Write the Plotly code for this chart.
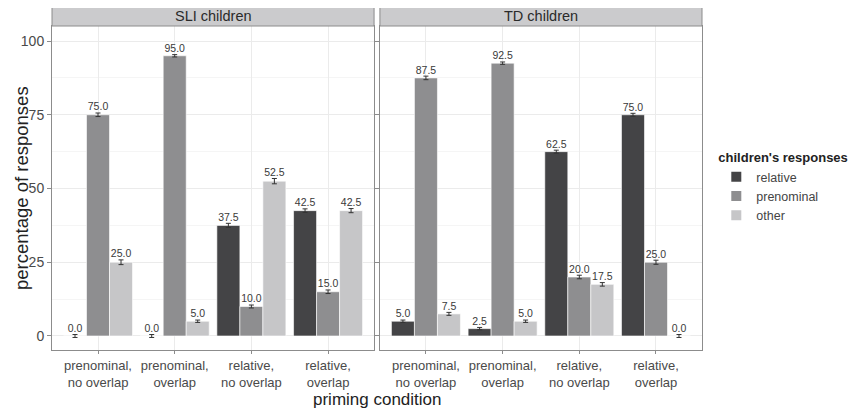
import plotly.graph_objects as go

conditions = ["prenominal,<br>no overlap", "prenominal,<br>overlap", "relative,<br>no overlap", "relative,<br>overlap"]
cond_pos = [1, 2, 3, 4]
panels = ["SLI children", "TD children"]
series = ["relative", "prenominal", "other"]
colors = ["#444446", "#8e8e90", "#c6c6c8"]

sli_values = {
    "relative": [0.0, 0.0, 37.5, 42.5],
    "prenominal": [75.0, 95.0, 10.0, 15.0],
    "other": [25.0, 5.0, 52.5, 42.5],
}
td_values = {
    "relative": [5.0, 2.5, 62.5, 75.0],
    "prenominal": [87.5, 92.5, 20.0, 25.0],
    "other": [7.5, 5.0, 17.5, 0.0],
}
sli_err = {
    "relative": [0.5, 0.5, 0.7, 0.6],
    "prenominal": [0.6, 0.4, 0.5, 0.6],
    "other": [0.8, 0.4, 0.9, 0.7],
}
td_err = {
    "relative": [0.4, 0.4, 0.5, 0.5],
    "prenominal": [0.6, 0.4, 0.6, 0.7],
    "other": [0.5, 0.4, 0.6, 0.5],
}

FONT = "Liberation Sans, Arial, sans-serif"
fig = go.Figure()

offsets = [-0.3, 0.0, 0.3]
for p, (vals, errs) in enumerate([(sli_values, sli_err), (td_values, td_err)]):
    xa = "x" if p == 0 else "x2"
    ya = "y" if p == 0 else "y2"
    for i, s in enumerate(series):
        fig.add_trace(go.Bar(
            x=cond_pos, y=vals[s], name=s, marker=dict(color=colors[i], line=dict(color="white", width=0.6)),
            error_y=dict(type="data", array=errs[s], color="#333333", thickness=1, width=2.5),
            xaxis=xa, yaxis=ya, legendgroup=s, showlegend=(p == 0), offsetgroup=str(i),
            hoverinfo="skip",
        ))
        fig.add_trace(go.Scatter(
            x=[c + offsets[i] for c in cond_pos],
            y=[v + e for v, e in zip(vals[s], errs[s])],
            text=[f"{v:.1f}" for v in vals[s]],
            mode="text", textposition="top center",
            textfont=dict(size=10.5, color="#3a3a3a", family=FONT),
            xaxis=xa, yaxis=ya, showlegend=False, hoverinfo="skip",
        ))

xcommon = dict(
    range=[0.4, 4.6], tickmode="array", tickvals=cond_pos, ticktext=conditions,
    showgrid=True, gridcolor="#ebebeb", gridwidth=1, zeroline=False,
    showline=True, mirror=True, linecolor="#8c8c8c", linewidth=1,
    ticks="outside", ticklen=3, tickcolor="#8c8c8c", automargin=False,
    tickfont=dict(size=13, color="#4a4a4a", family=FONT),
)
ycommon = dict(
    range=[-4.75, 105.1], tickmode="array", tickvals=[0, 25, 50, 75, 100],
    showgrid=True, gridcolor="#ebebeb", gridwidth=1, zeroline=False,
    minor=dict(showgrid=True, gridcolor="#f5f5f5", tickvals=[12.5, 37.5, 62.5, 87.5]),
    showline=True, mirror=True, linecolor="#8c8c8c", linewidth=1,
    ticks="outside", ticklen=4, tickcolor="#8c8c8c", automargin=False,
    tickfont=dict(size=14, color="#4a4a4a", family=FONT),
)

fig.update_layout(
    width=860, height=408,
    margin=dict(l=44, r=166, t=18, b=66, autoexpand=False),
    paper_bgcolor="white", plot_bgcolor="white",
    barmode="group", bargap=0.1, bargroupgap=0,
    font=dict(family=FONT, color="#333333"),
    xaxis=dict(domain=[0, 0.4955], anchor="y", **xcommon),
    xaxis2=dict(domain=[0.5045, 1], anchor="y2", **xcommon),
    yaxis=dict(domain=[0, 1], anchor="x", **ycommon),
    yaxis2=dict(domain=[0, 1], anchor="x2", showticklabels=False, **{k: v for k, v in ycommon.items() if k != "tickfont"}),
    legend=dict(
        x=1.022, y=0.632, xanchor="left", yanchor="top",
        title=dict(text="<b>children's responses</b>", font=dict(size=13, color="#222222", family=FONT)),
        font=dict(size=12.5, color="#444444", family=FONT),
        tracegroupgap=0, itemsizing="constant",
    ),
)

strip_top = 1 + 19 / 324
for xd, label in [("x", panels[0]), ("x2", panels[1])]:
    fig.add_shape(type="rect", xref=f"{xd} domain", yref="paper", x0=0, x1=1, y0=1, y1=strip_top,
                  fillcolor="#cbcbcd", line=dict(color="#8c8c8c", width=1), layer="above")
    fig.add_annotation(xref=f"{xd} domain", yref="paper", x=0.5, y=(1 + strip_top) / 2,
                       text=label, showarrow=False, font=dict(size=14.5, color="#2a2a2a", family=FONT),
                       xanchor="center", yanchor="middle")

fig.add_annotation(xref="paper", yref="paper", x=0.5, y=-60 / 324, text="priming condition",
                   showarrow=False, font=dict(size=17, color="#222222", family=FONT),
                   xanchor="center", yanchor="bottom", borderpad=0)
fig.add_annotation(xref="paper", yref="paper", x=-31 / 650, y=0.5, text="percentage of responses",
                   textangle=-90, showarrow=False, font=dict(size=18.5, color="#222222", family=FONT),
                   xanchor="center", yanchor="middle")

fig.write_html("out.html")
